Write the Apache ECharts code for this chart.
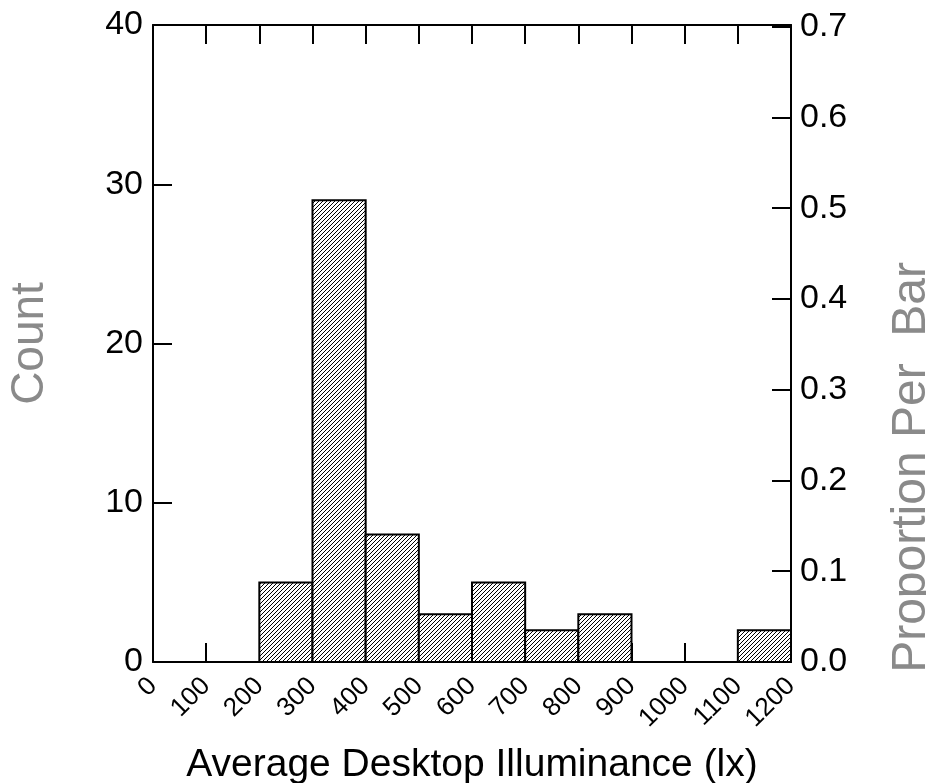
<!DOCTYPE html>
<html>
<head>
<meta charset="utf-8">
<script src="https://cdn.jsdelivr.net/npm/echarts@6/dist/echarts.min.js"></script>
<style>
  html, body {margin: 0; padding: 0; background: #fff;}
  #chart {width: 926px; height: 783px;}
</style>
</head>
<body>
<div id="chart"></div>
<script>
// Histogram of average desktop illuminance, count on the left, proportion on the right.

const binStarts = [0, 100, 200, 300, 400, 500, 600, 700, 800, 900, 1000, 1100]
const binWidth = 100
const counts = [0, 0, 5, 29, 8, 3, 5, 2, 3, 0, 0, 2]

const countMax = 40
const total = counts.reduce((a, b) => a + b, 0)
const proportionMax = countMax / total

const FONT = "'Liberation Sans', Arial, Helvetica, sans-serif"
const AXIS_NAME_COLOR = "#8a8a8a"

function hatchPattern() {
  const size = 8
  const c = document.createElement("canvas")
  c.width = size
  c.height = size
  const ctx = c.getContext("2d")
  ctx.fillStyle = "#fff"
  ctx.fillRect(0, 0, size, size)
  ctx.strokeStyle = "#000"
  ctx.lineWidth = 1
  for (let off = -size; off <= size * 2; off += 4) {
    ctx.beginPath()
    ctx.moveTo(off, size)
    ctx.lineTo(off + size, 0)
    ctx.stroke()
  }
  return c
}

const pattern = {image: hatchPattern(), repeat: "repeat"}

const axisLine = {show: true, onZero: false, lineStyle: {color: "#000", width: 2}}
const innerTick = {show: true, inside: true, length: 19, lineStyle: {color: "#000", width: 2}}

const chart = echarts.init(document.getElementById("chart"), null, {renderer: "canvas"})

chart.setOption({
  backgroundColor: "#fff",
  animation: false,
  grid: {left: 153, right: 135, top: 25, bottom: 121, outerBoundsMode: "none"},
  xAxis: [
    {
      type: "value",
      position: "bottom",
      min: 0,
      max: 1200,
      interval: 100,
      name: "Average Desktop Illuminance (lx)",
      nameLocation: "middle",
      nameGap: 84,
      nameTextStyle: {color: "#000", fontSize: 39, fontFamily: FONT},
      axisLine,
      axisTick: innerTick,
      axisLabel: {
        rotate: 45,
        margin: 20,
        fontSize: 26,
        color: "#000",
        fontFamily: FONT,
        formatter: v => String(v),
      },
      splitLine: {show: false},
    },
    {
      type: "value",
      position: "top",
      min: 0,
      max: 1200,
      interval: 100,
      axisLine,
      axisTick: innerTick,
      axisLabel: {show: false},
      splitLine: {show: false},
    },
  ],
  yAxis: [
    {
      type: "value",
      position: "left",
      min: 0,
      max: countMax,
      interval: 10,
      name: "Count",
      nameLocation: "middle",
      nameGap: 100,
      nameTextStyle: {color: AXIS_NAME_COLOR, fontSize: 46, fontFamily: FONT},
      axisLine,
      axisTick: innerTick,
      axisLabel: {margin: 10, fontSize: 34, color: "#000", fontFamily: FONT},
      splitLine: {show: false},
    },
    {
      type: "value",
      position: "right",
      min: 0,
      max: proportionMax,
      interval: 0.1,
      axisLine,
      axisTick: innerTick,
      axisLabel: {
        margin: 9,
        fontSize: 34,
        color: "#000",
        fontFamily: FONT,
        formatter(v) {
          const r = Math.round(v * 10) / 10
          return Math.abs(r - v) < 1e-6 ? r.toFixed(1) : ""
        },
      },
      splitLine: {show: false},
    },
  ],
  graphic: [
    {
      type: "text",
      left: 888,
      top: 262,
      rotation: Math.PI / 2,
      style: {
        text: "Proportion Per  Bar",
        fill: AXIS_NAME_COLOR,
        font: `48px ${FONT}`,
      },
    },
  ],
  series: [
    {
      type: "custom",
      xAxisIndex: 0,
      yAxisIndex: 0,
      data: binStarts.map((s, i) => [s, s + binWidth, counts[i]]),
      renderItem(params, api) {
        const count = api.value(2)
        if (!count) return null
        const topLeft = api.coord([api.value(0), count])
        const bottomRight = api.coord([api.value(1), 0])
        return {
          type: "rect",
          shape: {
            x: topLeft[0],
            y: topLeft[1],
            width: bottomRight[0] - topLeft[0],
            height: bottomRight[1] - topLeft[1],
          },
          style: {fill: pattern, stroke: "#000", lineWidth: 2},
        }
      },
    },
  ],
})
</script>
</body>
</html>
